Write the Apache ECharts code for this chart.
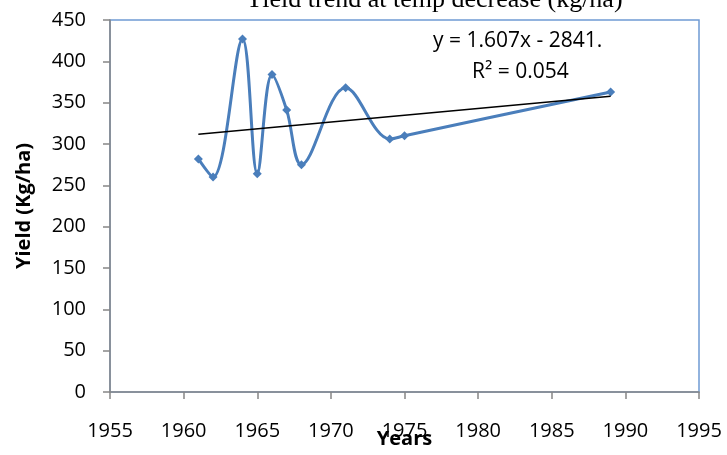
<!DOCTYPE html>
<html>
<head>
<meta charset="utf-8">
<script src="https://cdn.jsdelivr.net/npm/echarts@6/dist/echarts.min.js"></script>
<style>
html,body{margin:0;padding:0;background:#fff;}
#chart{width:727px;height:455px;}
</style>
</head>
<body>
<div id="chart"></div>
<script>
var titleText = 'Yield trend at temp decrease (kg/ha)';
var years = [1961, 1962, 1964, 1965, 1966, 1967, 1968, 1971, 1974, 1975, 1989];
var yields = [282, 260, 427, 264, 384, 341, 275, 368, 306, 310, 363];
var equationText = 'y = 1.607x - 2841.';
var r2Text = 'R² = 0.054';
var xAxisName = 'Years';
var yAxisName = 'Yield (Kg/ha)';

// least-squares trend computed from the data
var n = years.length, mx = 0, my = 0;
for (var i = 0; i < n; i++) { mx += years[i]; my += yields[i]; }
mx /= n; my /= n;
var sxy = 0, sxx = 0;
for (i = 0; i < n; i++) { sxy += (years[i]-mx)*(yields[i]-my); sxx += (years[i]-mx)*(years[i]-mx); }
var slope = sxy / sxx, icpt = my - slope * mx;
var xMin = Math.min.apply(null, years), xMax = Math.max.apply(null, years);
var trend = [[xMin, slope*xMin+icpt], [xMax, slope*xMax+icpt]];

var chart = echarts.init(document.getElementById('chart'), null, {renderer:'canvas'});
var font = '"Open Sans", "Liberation Sans", sans-serif';
chart.setOption({
  backgroundColor: '#ffffff',
  animation: false,
  title: {
    text: titleText,
    left: 240, top: -18,
    textStyle: {fontFamily: '"Liberation Serif", "DejaVu Serif", serif', fontWeight: 'normal', fontSize: 26, color: '#000'}
  },
  grid: {left: 110, right: 28, top: 20, bottom: 63, show: true, borderColor: '#6f9bd4', borderWidth: 1.5, backgroundColor: '#fff', containLabel: false, outerBoundsMode: 'none'},
  xAxis: {
    type: 'value', min: 1955, max: 1995, interval: 5,
    name: xAxisName, nameLocation: 'middle', nameGap: 37, nameMoveOverlap: false,
    nameTextStyle: {fontFamily: font, fontWeight: 'bold', fontSize: 20, color: '#000'},
    axisLine: {show: true, onZero: false, lineStyle: {color: '#868686', width: 1.5}},
    axisTick: {show: true, length: 7, lineStyle: {color: '#868686', width: 1.5}},
    axisLabel: {fontFamily: font, fontSize: 20, color: '#000', margin: 29, formatter: function(v){return String(v);}},
    splitLine: {show: false}
  },
  yAxis: {
    type: 'value', min: 0, max: 450, interval: 50,
    name: yAxisName, nameLocation: 'middle', nameGap: 76, nameRotate: 90, nameMoveOverlap: false,
    nameTextStyle: {fontFamily: font, fontWeight: 'bold', fontSize: 20, color: '#000'},
    axisLine: {show: true, lineStyle: {color: '#868686', width: 1.5}},
    axisTick: {show: true, length: 7, lineStyle: {color: '#868686', width: 1.5}},
    axisLabel: {fontFamily: font, fontSize: 20, color: '#000', margin: 24},
    splitLine: {show: false}
  },
  series: [
    {
      type: 'line', name: 'Yield',
      data: years.map(function(y, i){ return [y, yields[i]]; }),
      smooth: 0.35,
      symbol: 'diamond', symbolSize: 9,
      lineStyle: {color: '#4a7ebb', width: 3},
      itemStyle: {color: '#4a7ebb'},
      z: 3
    },
    {
      type: 'line', name: 'Trend',
      data: trend,
      symbol: 'none',
      lineStyle: {color: '#000', width: 1.5},
      z: 4
    }
  ],
  graphic: [
    {type: 'text', left: 433, top: 31, style: {text: equationText, font: '21px ' + font, fill: '#000'}},
    {type: 'text', left: 472, top: 62, style: {text: r2Text, font: '21px ' + font, fill: '#000'}}
  ]
});
</script>
</body>
</html>
